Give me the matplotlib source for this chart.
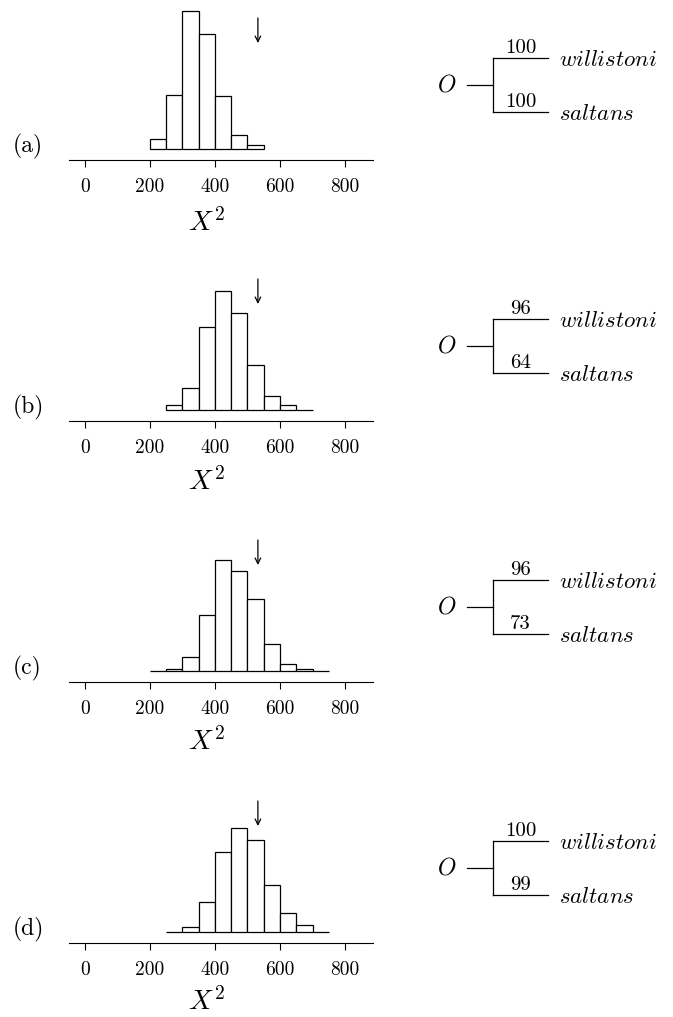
import matplotlib.pyplot as plt
import numpy as np

plt.rcParams["mathtext.fontset"] = "cm"
plt.rcParams["font.family"] = "serif"
plt.rcParams["font.serif"] = ["cmr10", "DejaVu Serif"]
plt.rcParams["axes.unicode_minus"] = False

W, H = 673, 1017

# bootstrap X^2 distributions (percent of replicates per bin of width 50)
panel_labels = ["(a)", "(b)", "(c)", "(d)"]
bin_width = 50
first_bin = [200, 250, 200, 250]
freq_a = [2.6, 13.8, 35.4, 29.5, 13.6, 3.6, 1.0]
freq_b = [1.3, 5.6, 21.3, 30.5, 24.9, 11.5, 3.6, 1.3, 0.1]
freq_c = [0.1, 0.5, 3.6, 14.4, 28.5, 25.6, 18.5, 6.9, 1.8, 0.4, 0.1]
freq_d = [0.0, 1.2, 7.8, 20.5, 26.6, 23.5, 12.0, 4.9, 1.7, 0.0]
freqs = [freq_a, freq_b, freq_c, freq_d]
observed_x2 = 532
x_ticks = [0, 200, 400, 600, 800]

# tree: support values and taxa
taxa = ["willistoni", "saltans"]
support_willistoni = [100, 96, 96, 100]
support_saltans = [100, 64, 73, 99]


def rect(x0, y_top, w, h):
    return [x0 / W, 1 - (y_top + h) / H, w / W, h / H]


px_per_pct = 3.9
fig = plt.figure(figsize=(W / 100, H / 100), dpi=100)

for k in range(4):
    off = 261 * k
    axis_y = 160 + off

    ax = fig.add_axes(rect(69, axis_y - 155, 304, 155))
    lefts = first_bin[k] + bin_width * np.arange(len(freqs[k]))
    ax.bar(lefts, freqs[k], width=bin_width, align="edge",
           facecolor="white", edgecolor="black", linewidth=0.9)
    ax.annotate("", xy=(observed_x2, 106 / px_per_pct),
                xytext=(observed_x2, 131 / px_per_pct),
                arrowprops=dict(arrowstyle="->,head_length=0.4,head_width=0.2",
                                lw=0.9, color="black", shrinkA=0, shrinkB=0))
    ax.set_xlim(-49, 886)
    ax.set_ylim(-11 / px_per_pct, 144 / px_per_pct)
    for s in ["top", "left", "right"]:
        ax.spines[s].set_visible(False)
    ax.spines["bottom"].set_linewidth(0.8)
    ax.set_yticks([])
    ax.set_xticks(x_ticks)
    ax.set_xticklabels([str(t) for t in x_ticks])
    ax.tick_params(axis="x", direction="out", length=5, width=0.8,
                   pad=8, labelsize=14)

    fig.text(13 / W, 1 - (152 + off) / H, panel_labels[k], fontsize=17,
             ha="left", va="baseline")
    fig.text(206 / W, 1 - (231 + 259.5 * k) / H, r"$X^2$", fontsize=20,
             ha="center", va="baseline")

    # tree
    tx = fig.add_axes(rect(430, 30 + off, 243, 100))
    tx.set_xlim(-1.416, 7.884)
    tx.set_ylim(-0.333, 1.519)
    tx.axis("off")
    node_x, tip_x = 1.0, 3.1
    tx.plot([0, node_x], [0.5, 0.5], color="black", lw=0.9)
    tx.plot([node_x, node_x], [0, 1], color="black", lw=0.9)
    supports = [support_willistoni[k], support_saltans[k]]
    for y, name, sup in zip([1, 0], taxa, supports):
        tx.plot([node_x, tip_x], [y, y], color="black", lw=0.9)
        tx.text((node_x + tip_x) / 2, y + 5 / 54, str(sup),
                ha="center", va="baseline", fontsize=15)
        tx.text(tip_x + 11 / 26.13, y - 8 / 54, "$" + name + "$",
                ha="left", va="baseline", fontsize=16.5)
    tx.text(-0.785, 0.5, "$O$", ha="center", va="center", fontsize=17)

fig.savefig("out.png", dpi=100)
